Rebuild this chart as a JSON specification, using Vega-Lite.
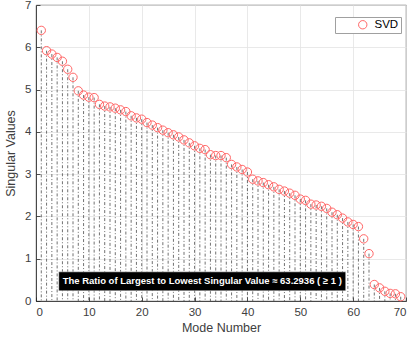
{
  "$schema": "https://vega.github.io/schema/vega-lite/v6.json",
  "width": 370,
  "height": 296,
  "autosize": {"type": "none"},
  "padding": {"left": 36, "top": 5, "right": 9, "bottom": 42},
  "background": "white",
  "config": {
    "font": "Liberation Sans",
    "view": {"stroke": "#262626", "strokeWidth": 0.8},
    "axis": {
      "labelFont": "Liberation Sans",
      "titleFont": "Liberation Sans",
      "labelColor": "#404040",
      "titleColor": "#404040",
      "labelFontSize": 11.5,
      "titleFontSize": 12.5,
      "titleFontWeight": "normal",
      "gridColor": "#e3e3e3",
      "gridWidth": 0.8,
      "domainColor": "#262626",
      "domainWidth": 0.8,
      "tickColor": "#262626",
      "tickWidth": 0.8,
      "tickSize": -4
    }
  },
  "datasets": {
    "sv": [
      {"mode": 1, "value": 6.40, "series": "SVD"}, {"mode": 2, "value": 5.92, "series": "SVD"}, {"mode": 3, "value": 5.84, "series": "SVD"},
      {"mode": 4, "value": 5.76, "series": "SVD"}, {"mode": 5, "value": 5.67, "series": "SVD"}, {"mode": 6, "value": 5.48, "series": "SVD"},
      {"mode": 7, "value": 5.29, "series": "SVD"}, {"mode": 8, "value": 4.97, "series": "SVD"}, {"mode": 9, "value": 4.87, "series": "SVD"},
      {"mode": 10, "value": 4.82, "series": "SVD"}, {"mode": 11, "value": 4.81, "series": "SVD"}, {"mode": 12, "value": 4.65, "series": "SVD"},
      {"mode": 13, "value": 4.61, "series": "SVD"}, {"mode": 14, "value": 4.59, "series": "SVD"}, {"mode": 15, "value": 4.56, "series": "SVD"},
      {"mode": 16, "value": 4.52, "series": "SVD"}, {"mode": 17, "value": 4.48, "series": "SVD"}, {"mode": 18, "value": 4.38, "series": "SVD"},
      {"mode": 19, "value": 4.33, "series": "SVD"}, {"mode": 20, "value": 4.30, "series": "SVD"}, {"mode": 21, "value": 4.22, "series": "SVD"},
      {"mode": 22, "value": 4.16, "series": "SVD"}, {"mode": 23, "value": 4.10, "series": "SVD"}, {"mode": 24, "value": 4.04, "series": "SVD"},
      {"mode": 25, "value": 3.98, "series": "SVD"}, {"mode": 26, "value": 3.93, "series": "SVD"}, {"mode": 27, "value": 3.88, "series": "SVD"},
      {"mode": 28, "value": 3.81, "series": "SVD"}, {"mode": 29, "value": 3.74, "series": "SVD"}, {"mode": 30, "value": 3.67, "series": "SVD"},
      {"mode": 31, "value": 3.61, "series": "SVD"}, {"mode": 32, "value": 3.58, "series": "SVD"}, {"mode": 33, "value": 3.46, "series": "SVD"},
      {"mode": 34, "value": 3.44, "series": "SVD"}, {"mode": 35, "value": 3.44, "series": "SVD"}, {"mode": 36, "value": 3.39, "series": "SVD"},
      {"mode": 37, "value": 3.23, "series": "SVD"}, {"mode": 38, "value": 3.17, "series": "SVD"}, {"mode": 39, "value": 3.11, "series": "SVD"},
      {"mode": 40, "value": 3.05, "series": "SVD"}, {"mode": 41, "value": 2.88, "series": "SVD"}, {"mode": 42, "value": 2.84, "series": "SVD"},
      {"mode": 43, "value": 2.80, "series": "SVD"}, {"mode": 44, "value": 2.75, "series": "SVD"}, {"mode": 45, "value": 2.70, "series": "SVD"},
      {"mode": 46, "value": 2.64, "series": "SVD"}, {"mode": 47, "value": 2.60, "series": "SVD"}, {"mode": 48, "value": 2.55, "series": "SVD"},
      {"mode": 49, "value": 2.50, "series": "SVD"}, {"mode": 50, "value": 2.41, "series": "SVD"}, {"mode": 51, "value": 2.38, "series": "SVD"},
      {"mode": 52, "value": 2.29, "series": "SVD"}, {"mode": 53, "value": 2.27, "series": "SVD"}, {"mode": 54, "value": 2.24, "series": "SVD"},
      {"mode": 55, "value": 2.19, "series": "SVD"}, {"mode": 56, "value": 2.10, "series": "SVD"}, {"mode": 57, "value": 2.04, "series": "SVD"},
      {"mode": 58, "value": 1.96, "series": "SVD"}, {"mode": 59, "value": 1.87, "series": "SVD"}, {"mode": 60, "value": 1.81, "series": "SVD"},
      {"mode": 61, "value": 1.76, "series": "SVD"}, {"mode": 62, "value": 1.47, "series": "SVD"}, {"mode": 63, "value": 1.12, "series": "SVD"},
      {"mode": 64, "value": 0.39, "series": "SVD"}, {"mode": 65, "value": 0.31, "series": "SVD"}, {"mode": 66, "value": 0.23, "series": "SVD"},
      {"mode": 67, "value": 0.18, "series": "SVD"}, {"mode": 68, "value": 0.17, "series": "SVD"}, {"mode": 69, "value": 0.101, "series": "SVD"}
    ],
    "note": [
      {"x1": 4.3, "x2": 58.6, "y1": 0.24, "y2": 0.69, "xm": 31.45, "ym": 0.465,
       "label": "The Ratio of Largest to Lowest Singular Value ≈ 63.2936 (  ≥ 1 )"}
    ]
  },
  "layer": [
    {
      "data": {"name": "sv"},
      "mark": {"type": "rule", "color": "#4d4d4d", "strokeWidth": 0.8, "strokeDash": [3, 2, 1, 2]},
      "encoding": {
        "x": {"field": "mode", "type": "quantitative",
              "scale": {"domain": [0, 70], "nice": false},
              "axis": {"values": [0, 10, 20, 30, 40, 50, 60, 70], "title": "Mode Number", "titlePadding": 4, "labelPadding": 9}},
        "y": {"field": "value", "type": "quantitative",
              "scale": {"domain": [0, 7], "nice": false},
              "axis": {"values": [0, 1, 2, 3, 4, 5, 6, 7], "title": "Singular Values", "titlePadding": 7, "labelPadding": 9}},
        "y2": {"datum": 0}
      }
    },
    {
      "data": {"name": "sv"},
      "mark": {"type": "point", "shape": "circle", "filled": false, "size": 70, "strokeWidth": 1, "opacity": 1},
      "encoding": {
        "x": {"field": "mode", "type": "quantitative"},
        "y": {"field": "value", "type": "quantitative"},
        "color": {"field": "series", "type": "nominal",
                  "scale": {"range": ["#ff6666"]},
                  "legend": {"title": null, "orient": "none", "legendX": 299, "legendY": 12,
                             "strokeColor": "#a0a0a0", "fillColor": "white",
                             "padding": 2, "labelFontSize": 11.5, "labelColor": "#000000",
                             "symbolOffset": 20, "labelOffset": 6,
                             "symbolSize": 70, "symbolStrokeWidth": 1, "symbolFillColor": "white"}}
      }
    },
    {
      "data": {"name": "note"},
      "mark": {"type": "rect", "color": "black", "stroke": "white", "strokeWidth": 0.5},
      "encoding": {
        "x": {"field": "x1", "type": "quantitative"},
        "x2": {"field": "x2"},
        "y": {"field": "y1", "type": "quantitative"},
        "y2": {"field": "y2"}
      }
    },
    {
      "data": {"name": "note"},
      "mark": {"type": "text", "color": "white", "fontSize": 9.5, "fontWeight": "bold", "align": "center", "baseline": "middle"},
      "encoding": {
        "x": {"field": "xm", "type": "quantitative"},
        "y": {"field": "ym", "type": "quantitative"},
        "text": {"field": "label"}
      }
    }
  ]
}
